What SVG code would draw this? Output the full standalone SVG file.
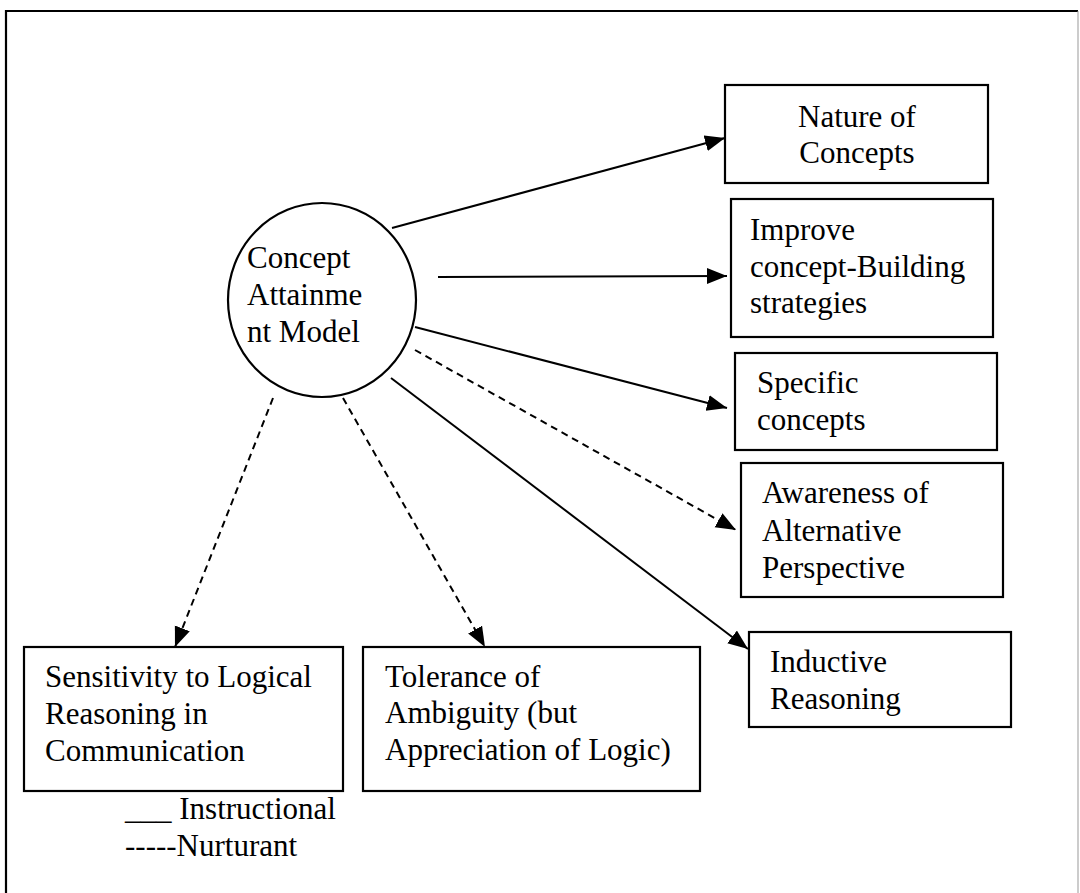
<svg xmlns="http://www.w3.org/2000/svg" width="1080" height="893" viewBox="0 0 1080 893">
<style>
.t{font-size:31px;fill:#000}
.box{fill:#fff;stroke:#000;stroke-width:2.2}
.ln{stroke:#000;stroke-width:2;fill:none}
.dash{stroke-dasharray:7 5}
</style>
<defs>
<marker id="ah" markerUnits="userSpaceOnUse" markerWidth="22" markerHeight="18" refX="20" refY="8" orient="auto">
<path d="M0,0 L20,8 L0,16 z" fill="#000"/>
</marker>
</defs>
<rect width="1080" height="893" fill="#fff"/>
<g id="frame">
<path d="M6,893 V11 H1078" fill="none" stroke="#000" stroke-width="2.2"/>
<path d="M1078,11 V893" fill="none" stroke="#999" stroke-width="1"/>
</g>
<g id="connectors">
<line class="ln" x1="392" y1="228" x2="725" y2="138" marker-end="url(#ah)"/>
<line class="ln" x1="438" y1="277" x2="727" y2="276" marker-end="url(#ah)"/>
<line class="ln" x1="415" y1="327" x2="727" y2="408" marker-end="url(#ah)"/>
<line class="ln dash" x1="415" y1="350" x2="736" y2="530" marker-end="url(#ah)"/>
<line class="ln" x1="391" y1="378" x2="748" y2="649" marker-end="url(#ah)"/>
<line class="ln dash" x1="273" y1="398" x2="175" y2="647" marker-end="url(#ah)"/>
<line class="ln dash" x1="343" y1="398" x2="485" y2="647" marker-end="url(#ah)"/>
</g>
<g class="t" style="font-family:'Liberation Serif', serif">
<g id="concept-attainment-model">
<ellipse cx="322" cy="300" rx="94" ry="97" class="box"/>
<text x="247" y="268">Concept</text>
<text x="247" y="305">Attainme</text>
<text x="247" y="342">nt Model</text>
</g>
<g id="nature-of-concepts">
<rect x="725" y="85" width="263" height="98" class="box"/>
<text x="857" y="127" text-anchor="middle">Nature of</text>
<text x="857" y="163" text-anchor="middle">Concepts</text>
</g>
<g id="improve-strategies">
<rect x="731" y="199" width="262" height="138" class="box"/>
<text x="750" y="240">Improve</text>
<text x="750" y="277">concept-Building</text>
<text x="750" y="313">strategies</text>
</g>
<g id="specific-concepts">
<rect x="735" y="353" width="262" height="97" class="box"/>
<text x="757" y="393">Specific</text>
<text x="757" y="430">concepts</text>
</g>
<g id="awareness">
<rect x="741" y="463" width="262" height="134" class="box"/>
<text x="762" y="503">Awareness of</text>
<text x="762" y="541">Alternative</text>
<text x="762" y="578">Perspective</text>
</g>
<g id="inductive-reasoning">
<rect x="749" y="632" width="262" height="95" class="box"/>
<text x="770" y="672">Inductive</text>
<text x="770" y="709">Reasoning</text>
</g>
<g id="sensitivity">
<rect x="24" y="647" width="319" height="144" class="box"/>
<text x="45" y="687">Sensitivity to Logical</text>
<text x="45" y="724">Reasoning in</text>
<text x="45" y="761">Communication</text>
</g>
<g id="tolerance">
<rect x="363" y="647" width="337" height="144" class="box"/>
<text x="385" y="687">Tolerance of</text>
<text x="385" y="723">Ambiguity (but</text>
<text x="385" y="760">Appreciation of Logic)</text>
</g>
<g id="legend">
<text x="125" y="819">___ Instructional</text>
<text x="125" y="856">-----Nurturant</text>
</g>
</g>
</svg>
